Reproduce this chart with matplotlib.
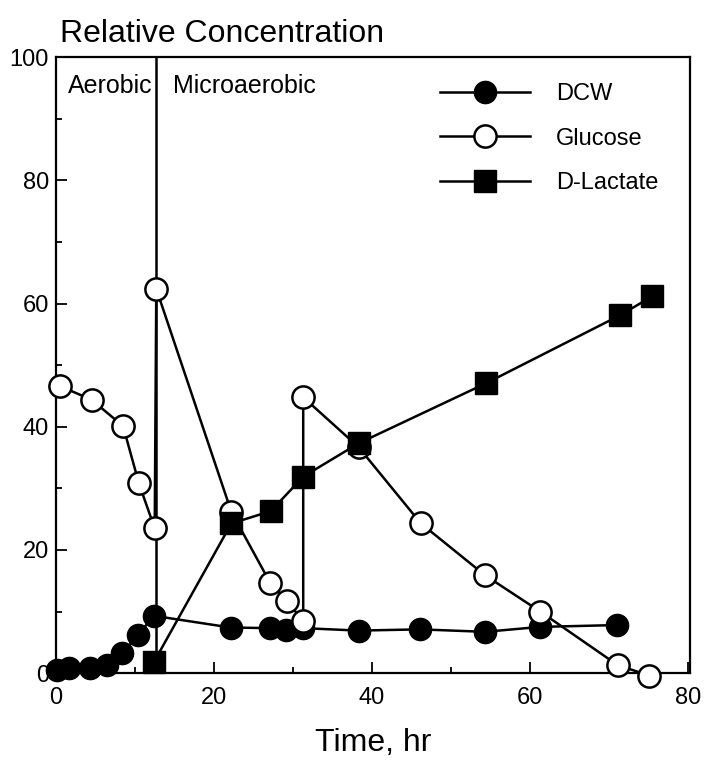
import numpy as np
import matplotlib
matplotlib.use('Agg')
from matplotlib import pyplot as plt
from matplotlib.ticker import MultipleLocator

plt.rcParams['font.family'] = ['Liberation Sans', 'DejaVu Sans']

# DCW (filled circles)
t_dcw = [0.1, 1.6, 4.3, 6.4, 8.4, 10.4, 12.4, 22.1, 27.1, 29.1, 31.3,
         38.3, 46.1, 54.3, 61.3, 71.0]
dcw   = [0.5, 0.8, 0.8, 1.3, 3.2, 6.2, 9.3, 7.4, 7.3, 7.0, 7.3,
         6.9, 7.1, 6.7, 7.5, 7.8]

# Glucose (open circles), with the feeding jumps
t_glc = [0.5, 4.5, 8.5, 10.5, 12.5, 12.7, 22.2, 27.1, 29.2, 31.3, 31.3,
         38.3, 46.2, 54.3, 61.3, 71.1, 75.1]
glc   = [46.6, 44.4, 40.1, 30.8, 23.5, 62.4, 26.2, 14.7, 11.7, 8.5, 44.8,
         36.7, 24.3, 15.9, 10.0, 1.3, -0.4]

# D-Lactate (filled squares)
t_lac = [12.4, 22.2, 27.2, 31.3, 38.3, 54.5, 71.4, 75.5]
lac   = [1.8, 24.3, 26.3, 31.9, 37.3, 47.1, 58.1, 61.2]

t_switch = 12.7  # aerobic -> microaerobic

fig = plt.figure(figsize=(7.04, 7.64), dpi=100)
ax = fig.add_axes([0.0795, 0.119, 0.901, 0.806])

ax.axvline(t_switch, color='k', lw=1.8)

ax.plot(t_dcw, dcw, '-o', color='k', mfc='k', mec='k', ms=16, lw=1.8,
        label='DCW', clip_on=False, zorder=3)
ax.plot(t_glc, glc, '-o', color='k', mfc='white', mec='k', mew=1.8, ms=16,
        lw=1.8, label='Glucose', clip_on=False, zorder=4)
ax.plot(t_lac, lac, '-s', color='k', mfc='k', mec='k', ms=16.5, lw=1.8,
        label='D-Lactate', clip_on=False, zorder=5)

ax.set_xlim(0, 80.3)
ax.set_ylim(0, 100)
ax.xaxis.set_major_locator(MultipleLocator(20))
ax.xaxis.set_minor_locator(MultipleLocator(10))
ax.yaxis.set_major_locator(MultipleLocator(20))
ax.yaxis.set_minor_locator(MultipleLocator(10))
ax.tick_params(which='both', direction='in', labelsize=17, width=1.3)
ax.tick_params(which='major', length=8)
ax.tick_params(which='minor', length=4)
ax.tick_params(axis='x', pad=10)
ax.tick_params(axis='y', pad=5)
for s in ax.spines.values():
    s.set_linewidth(1.6)

ax.text(1.5, 95.4, 'Aerobic', fontsize=18, va='center', ha='left')
ax.text(14.8, 95.4, 'Microaerobic', fontsize=18, va='center', ha='left')

ax.legend(loc='upper left', bbox_to_anchor=(0.606, 0.958), frameon=False,
          fontsize=17, handlelength=3.8, handletextpad=1.1, labelspacing=0.95,
          borderpad=0, borderaxespad=0)

fig.text(0.085, 0.945, 'Relative Concentration', fontsize=23, ha='left',
         va='baseline')
ax.set_xlabel('Time, hr', fontsize=23, labelpad=14)

plt.savefig('out.png')
plt.close()
